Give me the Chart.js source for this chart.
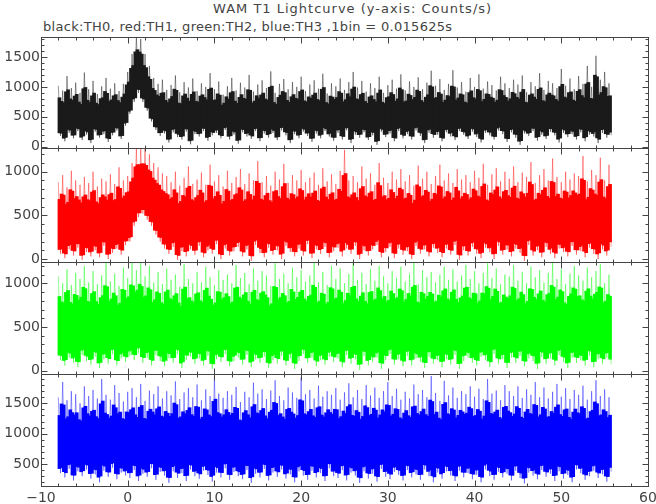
<!DOCTYPE html>
<html>
<head>
<meta charset="utf-8">
<script src="https://cdn.jsdelivr.net/npm/chart.js@4.4.0/dist/chart.umd.min.js"></script>
<style>
  body { margin: 0; background: #fff; width: 656px; height: 504px; overflow: hidden; position: relative; font-family: 'DejaVu Sans', sans-serif; }
  canvas { position: absolute; left: 0; }
  .txt { position: absolute; color: #444; font-size: 13px; white-space: nowrap; }
</style>
</head>
<body>
<div class="txt" style="left:213px; top:1px; letter-spacing:1px;">WAM T1 Lightcurve (y-axis: Counts/s)</div>
<div class="txt" style="left:43px; top:19px; letter-spacing:0.3px;">black:TH0, red:TH1, green:TH2, blue:TH3 ,1bin = 0.015625s</div>
<canvas id="th0" width="656" height="131" style="top:27px"></canvas>
<canvas id="th1" width="656" height="134" style="top:138px"></canvas>
<canvas id="th2" width="656" height="132" style="top:252px"></canvas>
<canvas id="th3" width="656" height="140" style="top:364px"></canvas>
<script>
// time bins (s), one value every 0.25 s from -8 s
const startTime = -8;
const binWidth = 0.25;

// counts/s: upper and lower swings of each 0.25 s stretch
const th0 = [
  1020, 180, 940, 90, 1180, 230, 980, 140, 1070, 260, 900, 110, 1240, 200, 960, 60,
  1100, 250, 880, 150, 1010, 210, 1150, 80, 970, 190, 1060, 270, 930, 130, 1050, 350,
  1250, 550, 1550, 750, 1850, 900, 1800, 750, 1550, 600, 1350, 420, 1150, 280, 1050, 180,
  1120, 220, 950, 70, 1030, 240, 1190, 160, 910, 120, 1080, 250, 990, 40, 1140, 210,
  930, 170, 1060, 260, 1000, 100, 1230, 190, 960, 230, 1090, 140, 870, 280, 1010, 120,
  1150, 200, 940, 50, 1070, 240, 990, 170, 1200, 130, 920, 260, 1040, 90, 1110, 220,
  980, 150, 1260, 230, 900, 110, 1050, 270, 1130, 190, 960, 60, 1080, 210, 1000, 140,
  1170, 250, 930, 180, 1040, 80, 1110, 220, 970, 140, 1220, 260, 890, 170, 1060, 100,
  1010, 230, 1140, 120, 950, 270, 1080, 60, 1250, 200, 990, 150, 1100, 240, 920, 110,
  1060, 190, 980, 30, 1170, 250, 900, 160, 1030, 220, 1120, 90, 970, 260, 1210, 140,
  940, 210, 1090, 120, 1000, 270, 1160, 180, 960, 60, 1070, 230, 1270, 150, 1020, 200,
  1130, 90, 950, 240, 1050, 170, 1280, 110, 990, 260, 1080, 200, 920, 130, 1150, 250,
  1000, 160, 1210, 70, 970, 230, 1090, 190, 1030, 120, 940, 270, 1170, 210, 1060, 80,
  980, 240, 1120, 150, 1040, 30, 1190, 220, 910, 180, 1080, 260, 1010, 100, 1230, 200,
  950, 130, 1100, 250, 1060, 190, 980, 70, 1300, 230, 1020, 160, 1140, 210, 960, 120,
  1180, 240, 1050, 90, 1350, 200, 1000, 170, 1520, 60, 1120, 230, 1250, 150, 1060, 190
];
const th1 = [
  880, 60, 960, 10, 820, 110, 1010, 40, 900, 130, 850, -10, 940, 80, 870, 30,
  1000, 100, 830, 20, 920, 150, 890, 0, 970, 70, 860, 120, 1050, 50, 900, 160,
  950, 200, 1100, 380, 1270, 480, 1270, 520, 1270, 450, 1200, 380, 1100, 280, 1050, 200,
  980, 120, 950, 60, 880, 140, 1000, -10, 840, 90, 930, 30, 1060, 110, 860, 50,
  910, 150, 990, 20, 850, 100, 1080, 60, 890, 170, 960, 0, 830, 120, 1010, 40,
  870, 90, 940, 140, 1030, 30, 860, 110, 980, -20, 900, 160, 1120, 70, 880, 20,
  950, 130, 840, 50, 1000, 100, 910, 0, 1090, 150, 870, 80, 960, 30, 900, 120,
  1020, 40, 880, 170, 930, 10, 990, 110, 850, 60, 1040, 140, 890, 20, 970, 90,
  860, 130, 1010, 30, 1250, 120, 900, 60, 950, 150, 880, 0, 1060, 100, 920, 40,
  980, 110, 850, 160, 1100, 20, 930, 80, 870, 140, 1000, 10, 910, 120, 1030, 50,
  890, 90, 960, 0, 840, 150, 1070, 60, 920, 110, 1000, 30, 860, 130, 950, 70,
  1080, 20, 900, 120, 980, 50, 870, 160, 1030, -10, 910, 100, 960, 40, 880, 140,
  1010, 60, 930, 10, 1090, 130, 850, 80, 970, 0, 1040, 150, 890, 50, 1000, 110,
  920, 30, 1060, 120, 880, 70, 990, -20, 940, 160, 1110, 40, 870, 100, 960, 20,
  1030, 140, 900, 60, 1150, 10, 940, 120, 880, 80, 1000, 30, 910, 150, 980, 50,
  950, 90, 1180, 20, 890, 130, 1020, 60, 960, 0, 1160, 110, 900, 40, 1080, 140
];
const th2 = [
  1080, 120, 1000, 60, 1160, 150, 980, 90, 1120, 40, 1050, 180, 1200, 110, 1010, 70,
  1140, 160, 990, 30, 1090, 130, 1240, 80, 1020, 190, 1110, 60, 970, 140, 1180, 100,
  1060, 170, 1240, 120, 1150, 200, 1240, 90, 1080, 150, 1200, 60, 1010, 180, 1130, 110,
  990, 50, 1170, 140, 1040, 90, 1100, 190, 960, 30, 1220, 120, 1050, 160, 1000, 80,
  1130, 140, 1010, 60, 1190, 170, 1070, 20, 980, 130, 1150, 100, 1040, 190, 1100, 50,
  1000, 110, 1210, 150, 1060, 70, 1120, 180, 990, 40, 1170, 130, 1030, 90, 1140, 160,
  1090, 30, 970, 120, 1230, 80, 1050, 170, 1110, 60, 1000, 140, 1180, 20, 1070, 110,
  1150, 190, 1020, 90, 1090, 150, 1240, 50, 1010, 120, 1130, 70, 980, 160, 1200, 100,
  1050, 140, 1170, 40, 1000, 180, 1110, 80, 1230, 130, 1040, 10, 1120, 170, 990, 60,
  1160, 100, 1030, 150, 1200, 20, 1080, 120, 1000, 190, 1140, 70, 1060, 130, 1190, 50,
  1020, 170, 1110, 60, 1240, 140, 990, 100, 1150, 30, 1070, 160, 1130, 80, 1010, 120,
  1100, 40, 1190, 130, 1040, 70, 1160, 180, 1020, 20, 1090, 110, 1210, 150, 1050, 90,
  1140, 60, 1000, 160, 1120, 120, 1230, 40, 1060, 190, 1170, 80, 990, 130, 1100, 30,
  1080, 150, 1210, 90, 1030, 170, 1130, 50, 1000, 140, 1190, 110, 1070, 20, 1150, 160,
  1010, 80, 1120, 140, 1240, 60, 1050, 180, 1160, 100, 990, 30, 1110, 150, 1200, 90,
  1090, 120, 1030, 60, 1180, 170, 1070, 40, 1140, 130, 1220, 80, 1000, 150, 1100, 70
];
const th3 = [
  1600, 350, 1850, 280, 1550, 420, 1700, 230, 1650, 380, 1500, 300, 1780, 410, 1620, 260,
  1720, 330, 1580, 200, 1900, 390, 1640, 290, 1560, 440, 1800, 250, 1670, 360, 1530, 310,
  1690, 270, 1750, 400, 1600, 220, 1820, 340, 1540, 290, 1710, 430, 1650, 240, 1780, 370,
  1580, 310, 1700, 190, 1630, 380, 1860, 270, 1570, 350, 1680, 220, 1750, 410, 1600, 300,
  1810, 260, 1550, 390, 1730, 320, 1620, 210, 1950, 360, 1660, 280, 1590, 430, 1700, 240,
  1640, 370, 1770, 300, 1520, 250, 1690, 400, 1600, 190, 1840, 340, 1660, 280, 1730, 420,
  1570, 230, 1710, 360, 1880, 290, 1620, 410, 1550, 260, 1760, 330, 1680, 200, 1590, 380,
  1930, 310, 1650, 240, 1720, 390, 1580, 280, 1790, 350, 1610, 220, 1700, 430, 1640, 300,
  1750, 270, 1560, 400, 1680, 230, 1830, 360, 1600, 310, 1720, 190, 1570, 380, 1800, 260,
  1630, 340, 1760, 210, 1590, 420, 1700, 290, 1850, 250, 1620, 370, 1740, 320, 1560, 230,
  1690, 400, 1580, 280, 1810, 330, 1650, 240, 1720, 410, 1600, 300, 1950, 200, 1670, 360,
  1540, 260, 1870, 380, 1630, 310, 1760, 220, 1590, 390, 1700, 280, 1650, 350, 1780, 250,
  1610, 320, 1740, 200, 1570, 410, 1900, 300, 1660, 240, 1710, 370, 1550, 280, 1800, 340,
  1700, 230, 1620, 390, 1780, 270, 1590, 180, 1730, 360, 1640, 310, 1850, 250, 1600, 400,
  1760, 290, 1580, 340, 1690, 220, 1820, 380, 1610, 260, 1750, 320, 1570, 200, 1720, 410,
  1640, 350, 1790, 240, 1560, 300, 1700, 390, 1880, 270, 1620, 330, 1730, 210, 1600, 370
];

// y tick labels per panel
const th0Ticks = [0, 500, 1000, 1500];
const th1Ticks = [0, 500, 1000];
const th2Ticks = [0, 500, 1000];
const th3Ticks = [500, 1000, 1500];
const xTicks = [-10, 0, 10, 20, 30, 40, 50, 60];

const frameColor = '#444';
const labelFont = '14px "DejaVu Sans", sans-serif';

// box, inward ticks on all four sides and the tick labels
const framePlugin = {
  id: 'frame',
  afterDraw(chart, args, opts) {
    const ctx = chart.ctx;
    const a = chart.chartArea;
    const xs = chart.scales.x, ys = chart.scales.y;
    const L = Math.round(a.left) + 0.5, R = Math.round(a.right) + 0.5;
    const T = Math.round(a.top) + 0.5, B = Math.round(a.bottom) + 0.5;
    ctx.save();
    ctx.strokeStyle = frameColor;
    ctx.lineWidth = 1;
    ctx.strokeRect(L, T, R - L, B - T);

    ctx.beginPath();
    for (let v = -10; v <= 60; v += 2) {
      const px = Math.round(xs.getPixelForValue(v)) + 0.5;
      const len = v % 10 === 0 ? 6 : 3;
      ctx.moveTo(px, B); ctx.lineTo(px, B - len);
      ctx.moveTo(px, T); ctx.lineTo(px, T + len);
    }
    for (let v = Math.ceil(ys.min / 100) * 100; v <= ys.max; v += 100) {
      const py = Math.round(ys.getPixelForValue(v)) + 0.5;
      const len = v % 500 === 0 ? 6 : 3;
      ctx.moveTo(L, py); ctx.lineTo(L + len, py);
      ctx.moveTo(R, py); ctx.lineTo(R - len, py);
    }
    ctx.stroke();

    ctx.fillStyle = frameColor;
    ctx.font = labelFont;
    ctx.textAlign = 'right';
    ctx.textBaseline = 'middle';
    opts.yLabels.forEach(v => {
      ctx.fillText(String(v), a.left - 1, ys.getPixelForValue(v));
    });
    if (opts.xLabels) {
      ctx.textAlign = 'center';
      ctx.textBaseline = 'top';
      opts.xLabels.forEach(v => {
        ctx.fillText(v < 0 ? '\u2212' + Math.abs(v) : String(v), xs.getPixelForValue(v), a.bottom + 5);
      });
    }
    ctx.restore();
  }
};

function makePanel(id, values, dark, light, yMin, yMax, yLabels, xLabels, padBottom) {
  const points = values.map((v, i) => ({ x: startTime + i * binWidth, y: v }));
  // dense part of each swing between neighbouring bins (most of the 1/64 s bins sit here)
  const core = [];
  for (let i = 0; i < values.length - 1; i++) {
    const lo = Math.min(values[i], values[i + 1]);
    const hi = Math.max(values[i], values[i + 1]);
    const span = hi - lo;
    core.push({ x: startTime + (i + 0.5) * binWidth, y: [lo + 0.06 * span, hi - 0.24 * span] });
  }
  return new Chart(document.getElementById(id), {
    type: 'bar',
    data: {
      datasets: [{
        type: 'line',
        data: points,
        borderColor: light,
        borderWidth: 1,
        pointRadius: 0,
        tension: 0,
        order: 2
      }, {
        type: 'bar',
        data: core,
        backgroundColor: dark,
        borderWidth: 0,
        barThickness: 3,
        grouped: false,
        order: 1
      }]
    },
    options: {
      responsive: false,
      animation: false,
      layout: { padding: { left: 41, right: 8, top: 10, bottom: padBottom } },
      scales: {
        x: { type: 'linear', min: -10, max: 60, offset: false, display: false },
        y: { type: 'linear', min: yMin, max: yMax, display: false }
      },
      plugins: {
        legend: { display: false },
        tooltip: { enabled: false },
        frame: { yLabels: yLabels, xLabels: xLabels }
      }
    },
    plugins: [framePlugin]
  });
}

makePanel('th0', th0, '#1a1a1a', 'rgba(0, 0, 0, 0.4)', -22, 1834, th0Ticks, null, 10);
makePanel('th1', th1, '#ff0000', 'rgba(255, 0, 0, 0.4)', -34, 1271, th1Ticks, null, 10);
makePanel('th2', th2, '#00ff00', 'rgba(0, 255, 0, 0.4)', -38, 1244, th2Ticks, null, 10);
makePanel('th3', th3, '#0000ff', 'rgba(0, 0, 255, 0.4)', 138, 1983, th3Ticks, xTicks, 18);
</script>
</body>
</html>
